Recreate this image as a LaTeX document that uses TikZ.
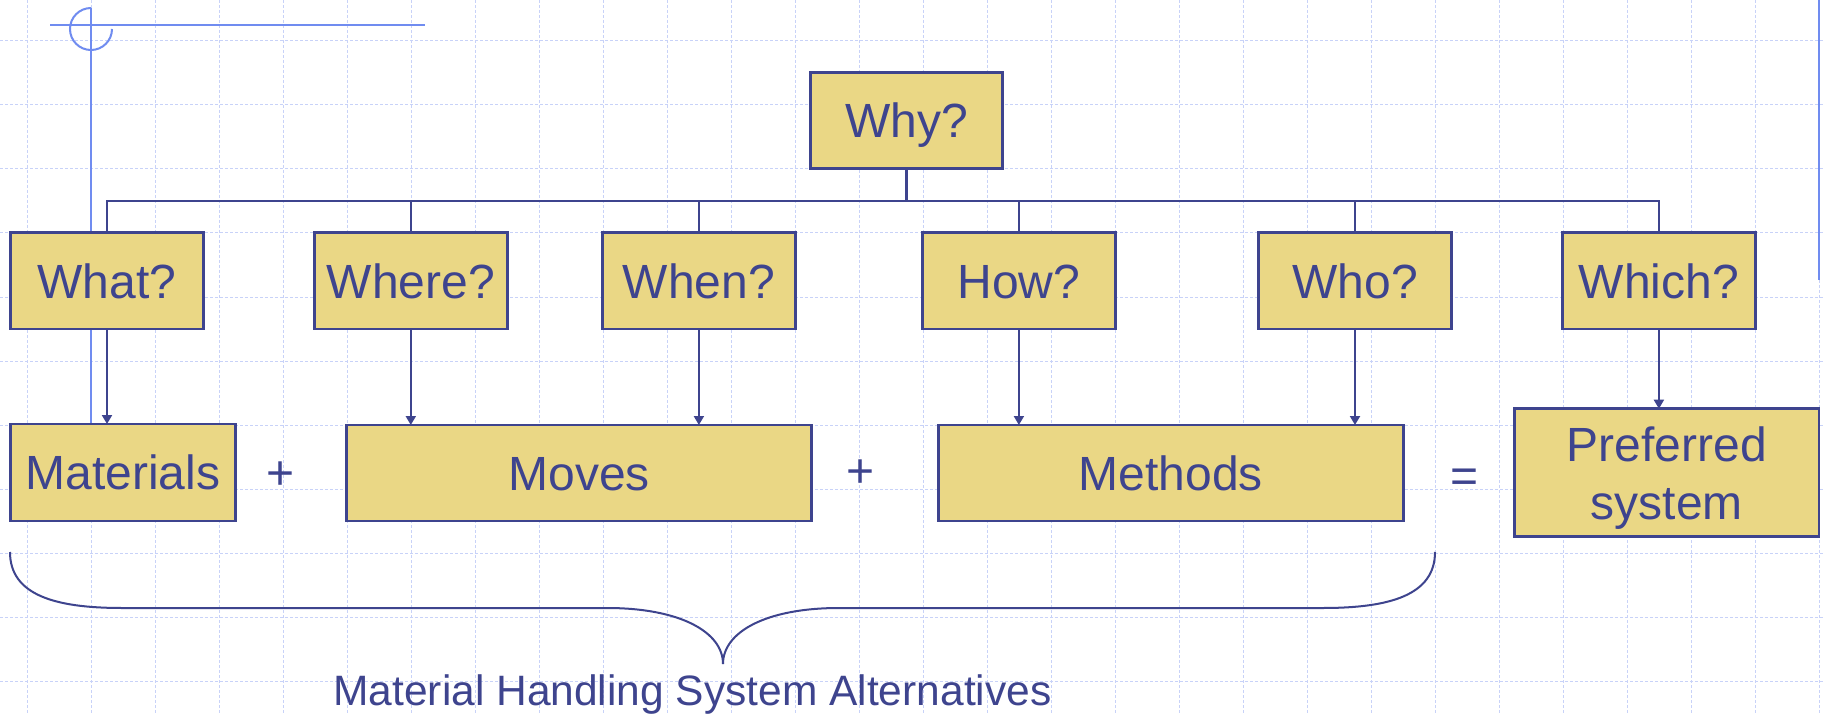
\documentclass[tikz,border=0pt]{standalone}
\usepackage{fontspec}
\setmainfont{Liberation Sans}
\usetikzlibrary{arrows.meta}
\definecolor{boxfill}{RGB}{234,215,133}
\definecolor{ink}{RGB}{62,68,142}
\definecolor{deco}{RGB}{112,140,240}
\definecolor{gridc}{RGB}{200,210,248}
\begin{document}
\begin{tikzpicture}[x=1pt,y=-1pt,
  qbox/.style={draw=ink, fill=boxfill, line width=2.5pt, inner sep=0pt, outer sep=0pt, text=ink,
    font=\fontsize{48}{57.6}\selectfont, text height=34.4pt, text depth=0pt},
  midbox/.style={qbox, minimum width=193pt, minimum height=96.3pt},
  wire/.style={draw=ink, line width=2pt, line join=miter},
  arr/.style={wire, -{Triangle[length=9pt,width=10pt]}},
  sym/.style={text=ink, font=\fontsize{48}{57.6}\selectfont, inner sep=0pt},
  gridline/.style={gridc, line width=1pt, dash pattern=on 3pt off 2pt},
  decoline/.style={deco, line width=2pt}]
\fill[white] (0,0) rectangle (1824,714);
\useasboundingbox (0,0) rectangle (1824,714);
% background grid
\foreach \i in {0,...,28} \draw[gridline] ({27+64*\i},0) -- ({27+64*\i},714);
\foreach \j in {0,...,10} \draw[gridline] (0,{41+64*\j}) -- (1824,{41+64*\j});
% slide decoration
\draw[decoline] (50,25) -- (425,25);
\draw[decoline] (91,8) -- (91,423);
\draw[decoline] (91,8) arc[start angle=90, end angle=360, radius=21pt];
\draw[decoline] (1819,0) -- (1819,280);
% boxes
\node[qbox, minimum width=192pt, minimum height=96pt] (why) at (906.7,120.7) {Why?};
\node[midbox] (what)  at (107,280.9)   {What?};
\node[midbox] (where) at (410.8,280.9) {Where?};
\node[midbox] (when)  at (698.9,280.9) {When?};
\node[midbox] (how)   at (1018.9,280.9) {How?};
\node[midbox] (who)   at (1355,280.9)  {Who?};
\node[midbox] (which) at (1658.9,280.9) {Which?};
\node[qbox, minimum width=224.6pt, minimum height=97pt] (materials) at (123,472.5) {Materials};
\node[qbox, minimum width=465pt, minimum height=96pt] (moves) at (579.2,473) {Moves};
\node[qbox, minimum width=465pt, minimum height=96pt] (methods) at (1170.8,473) {Methods};
\node[qbox, minimum width=304.7pt, minimum height=128pt] (pref) at (1666.7,472.7) {};
\node[sym, anchor=base] (preftop) at (1666.7,461.7) {Preferred};
\node[sym, anchor=base] (prefbot) at (1666.7,519.3) {system};
% operators
\node[sym] (plusA) at (281,475.5) {+};
\node[sym] (plusB) at (860.3,473.3) {+};
\node[sym] (equal) at (1465,481.2) {=};
% tree connectors
\coordinate (bus) at (906.7,201);
\draw[wire, line width=3.5pt] (why.south) -- (why.south |- bus);
\draw[wire] (what.north) -- (what.north |- bus) -- (which.north |- bus) -- (which.north);
\draw[wire] (where.north) -- (where.north |- bus);
\draw[wire] (when.north) -- (when.north |- bus);
\draw[wire] (how.north) -- (how.north |- bus);
\draw[wire] (who.north) -- (who.north |- bus);
% arrows
\draw[arr] (what.south) -- (what.south |- materials.north);
\draw[arr] (where.south) -- (where.south |- moves.north);
\draw[arr] (when.south) -- (when.south |- moves.north);
\draw[arr] (how.south) -- (how.south |- methods.north);
\draw[arr] (who.south) -- (who.south |- methods.north);
\draw[arr] (which.south) -- (which.south |- pref.north);
% brace
\coordinate (braceL) at (10,552);
\coordinate (braceR) at (1435,552);
\coordinate (cusp) at (723,664);
\draw[wire] (braceL) .. controls (10,595) and (55,608) .. (122,608) -- (607,608)
  .. controls (680,608) and (723,632) .. (cusp);
\draw[wire] (braceR) .. controls (1435,595) and (1390,608) .. (1323,608) -- (839,608)
  .. controls (766,608) and (723,632) .. (cusp);
\node[sym, font=\fontsize{42.5}{51}\selectfont, anchor=base] (label) at (692.5,705.5) {Material Handling System Alternatives};
\end{tikzpicture}
\end{document}
